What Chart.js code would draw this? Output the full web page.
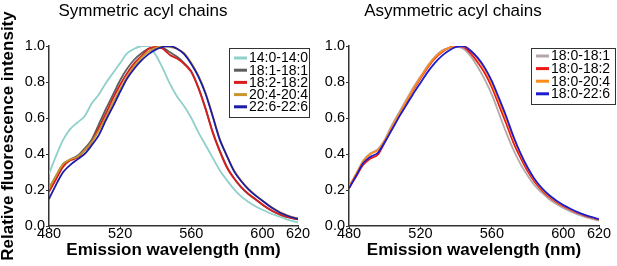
<!DOCTYPE html>
<html>
<head>
<meta charset="utf-8">
<script src="https://cdn.jsdelivr.net/npm/chart.js@4.4.1/dist/chart.umd.min.js"></script>
<style>
  html, body { margin: 0; padding: 0; background: #fff; }
  #wrap { position: relative; width: 617px; height: 266px; }
  #wrap canvas { position: absolute; left: 0; top: 0; }
</style>
</head>
<body>
<div id="wrap">
  <canvas id="leftChart" width="617" height="266"></canvas>
  <canvas id="rightChart" width="617" height="266"></canvas>
</div>
<script>
const FONT = '"Liberation Sans", Arial, Helvetica, sans-serif';

const wavelengths = [480, 484, 488, 492, 496, 500, 504, 508, 512, 516, 520, 524, 528, 532, 536, 540, 544, 548,
  552, 556, 560, 564, 568, 572, 576, 580, 584, 588, 592, 596, 600, 604, 608, 612, 616, 620];
const xTicks = [480, 520, 560, 600, 620];
const yTicks = [0, 0.2, 0.4, 0.6, 0.8, 1.0];

// Symmetric acyl chains
const sym_14_0 = [0.29, 0.39, 0.48, 0.54, 0.575, 0.61, 0.68, 0.73, 0.795, 0.85, 0.905, 0.96, 0.985, 1.0, 1.0, 0.95, 0.875, 0.79,
  0.72, 0.665, 0.60, 0.52, 0.45, 0.38, 0.31, 0.255, 0.205, 0.165, 0.135, 0.11, 0.09, 0.072, 0.057, 0.043, 0.03, 0.02];
const sym_18_1 = [0.21, 0.28, 0.345, 0.37, 0.39, 0.43, 0.48, 0.565, 0.65, 0.73, 0.81, 0.875, 0.925, 0.96, 0.985, 0.99, 0.99, 0.965,
  0.94, 0.905, 0.86, 0.77, 0.655, 0.525, 0.42, 0.33, 0.265, 0.215, 0.178, 0.148, 0.118, 0.092, 0.071, 0.055, 0.045, 0.037];
const sym_18_2 = [0.19, 0.26, 0.33, 0.365, 0.38, 0.42, 0.465, 0.545, 0.625, 0.71, 0.785, 0.85, 0.905, 0.945, 0.985, 0.995, 0.985, 0.95,
  0.93, 0.90, 0.855, 0.765, 0.65, 0.52, 0.415, 0.325, 0.265, 0.218, 0.18, 0.15, 0.12, 0.093, 0.072, 0.056, 0.045, 0.037];
const sym_20_4 = [0.21, 0.28, 0.345, 0.37, 0.385, 0.42, 0.465, 0.53, 0.605, 0.685, 0.76, 0.83, 0.89, 0.935, 0.97, 0.99, 1.0, 0.995,
  0.985, 0.96, 0.905, 0.835, 0.74, 0.615, 0.485, 0.39, 0.31, 0.252, 0.207, 0.172, 0.142, 0.112, 0.087, 0.067, 0.052, 0.042];
const sym_22_6 = [0.15, 0.23, 0.30, 0.34, 0.37, 0.40, 0.448, 0.505, 0.588, 0.665, 0.745, 0.82, 0.875, 0.92, 0.955, 0.98, 0.995, 1.0,
  0.985, 0.955, 0.90, 0.83, 0.735, 0.61, 0.48, 0.39, 0.305, 0.25, 0.205, 0.17, 0.14, 0.11, 0.085, 0.065, 0.05, 0.04];

// Asymmetric acyl chains
const asym_18_1 = [0.215, 0.285, 0.365, 0.405, 0.425, 0.48, 0.56, 0.63, 0.70, 0.77, 0.83, 0.89, 0.94, 0.975, 0.99, 0.995, 0.985, 0.945,
  0.885, 0.815, 0.73, 0.625, 0.52, 0.425, 0.345, 0.28, 0.225, 0.185, 0.15, 0.123, 0.10, 0.081, 0.064, 0.051, 0.04, 0.03];
const asym_18_2 = [0.21, 0.275, 0.34, 0.375, 0.395, 0.465, 0.54, 0.615, 0.685, 0.755, 0.82, 0.88, 0.93, 0.965, 0.99, 1.0, 0.995, 0.96,
  0.91, 0.85, 0.77, 0.67, 0.57, 0.465, 0.38, 0.305, 0.245, 0.198, 0.162, 0.134, 0.11, 0.09, 0.072, 0.058, 0.046, 0.035];
const asym_20_4 = [0.22, 0.29, 0.36, 0.40, 0.42, 0.475, 0.55, 0.62, 0.69, 0.76, 0.825, 0.885, 0.935, 0.97, 0.99, 1.0, 1.0, 0.975,
  0.93, 0.87, 0.79, 0.695, 0.595, 0.49, 0.40, 0.32, 0.255, 0.205, 0.168, 0.138, 0.114, 0.093, 0.075, 0.06, 0.047, 0.036];
const asym_22_6 = [0.21, 0.28, 0.35, 0.385, 0.405, 0.465, 0.535, 0.605, 0.67, 0.735, 0.795, 0.855, 0.905, 0.945, 0.975, 0.995, 1.0, 0.975,
  0.935, 0.88, 0.805, 0.71, 0.61, 0.50, 0.405, 0.325, 0.26, 0.21, 0.172, 0.142, 0.117, 0.096, 0.077, 0.062, 0.049, 0.038];

const symLabels = ['14:0-14:0', '18:1-18:1', '18:2-18:2', '20:4-20:4', '22:6-22:6'];
const symColors = ['#8fd0cb', '#5e5e5e', '#d91c1c', '#c8962a', '#1c1ca6'];
const symSeries = [sym_14_0, sym_18_1, sym_18_2, sym_20_4, sym_22_6];

const asymLabels = ['18:0-18:1', '18:0-18:2', '18:0-20:4', '18:0-22:6'];
const asymColors = ['#b3a7a7', '#ee1616', '#ff8c1a', '#1c1cd0'];
const asymSeries = [asym_18_1, asym_18_2, asym_20_4, asym_22_6];

Chart.defaults.font.family = FONT;
Chart.defaults.color = '#000';

// panel heading + boxed legend, drawn inside the plot
const panelDecor = {
  id: 'panelDecor',
  afterDraw(chart, args, opts) {
    const ctx = chart.ctx;
    ctx.save();
    ctx.fillStyle = '#000';
    ctx.font = '17px ' + FONT;
    ctx.textAlign = 'center';
    ctx.textBaseline = 'alphabetic';
    ctx.fillText(opts.title, opts.titleX, opts.titleY);

    const lg = opts.legend;
    ctx.fillStyle = '#fff';
    ctx.fillRect(lg.x, lg.y, lg.w, lg.h);
    ctx.strokeStyle = '#333';
    ctx.lineWidth = 1;
    ctx.strokeRect(lg.x + 0.5, lg.y + 0.5, lg.w, lg.h);
    ctx.font = '14px ' + FONT;
    ctx.textAlign = 'left';
    ctx.textBaseline = 'middle';
    chart.data.datasets.forEach((ds, i) => {
      const y = lg.y + lg.first + i * lg.step;
      ctx.strokeStyle = ds.borderColor;
      ctx.lineWidth = 3;
      ctx.beginPath();
      ctx.moveTo(lg.x + 5, y);
      ctx.lineTo(lg.x + 18, y);
      ctx.stroke();
      ctx.fillStyle = '#000';
      ctx.fillText(ds.label, lg.x + 20, y + 0.5);
    });
    ctx.restore();
  }
};

function buildDatasets(labels, colors, series) {
  return labels.map((label, i) => ({
    label,
    data: wavelengths.map((w, j) => ({ x: w, y: series[i][j] })),
    borderColor: colors[i],
    backgroundColor: colors[i],
    borderWidth: 1.8,
    pointRadius: 0,
    tension: 0.3,
    fill: false,
    order: labels.length - i
  }));
}

function buildOptions(isLeft, decor) {
  return {
    responsive: false,
    animation: false,
    events: [],
    layout: {
      padding: isLeft ? { left: 0, right: 319, top: 46, bottom: 0 } : { left: 312, right: 18, top: 46, bottom: 0 }
    },
    plugins: {
      legend: { display: false },
      tooltip: { enabled: false },
      panelDecor: decor
    },
    scales: {
      x: {
        type: 'linear',
        min: 480,
        max: 620,
        afterBuildTicks: s => { s.ticks = xTicks.map(v => ({ value: v })); },
        afterFit: s => { s.height = 40; },
        grid: { drawOnChartArea: false, drawTicks: true, tickLength: 3, color: '#333' },
        border: { color: '#333', width: 1.5 },
        ticks: { font: { size: 14.5 }, color: '#000', padding: -4, maxRotation: 0, autoSkip: false },
        title: {
          display: true,
          text: 'Emission wavelength (nm)',
          color: '#000',
          font: { size: 17, weight: 'bold', lineHeight: 1 },
          padding: { top: 0, bottom: 7 }
        }
      },
      y: {
        min: 0,
        max: 1,
        afterBuildTicks: s => { s.ticks = yTicks.map(v => ({ value: v })); },
        afterFit: s => { s.width = isLeft ? 49 : 37; },
        grid: { drawOnChartArea: false, drawTicks: true, tickLength: 3, color: '#333' },
        border: { color: '#333', width: 1.5 },
        ticks: { font: { size: 14.5 }, color: '#000', padding: 1, callback: v => Number(v).toFixed(1) },
        title: {
          display: isLeft,
          text: 'Relative fluorescence intensity',
          color: '#000',
          font: { size: 17, weight: 'bold', lineHeight: 1 },
          padding: { top: 0, bottom: 0 }
        }
      }
    }
  };
}

new Chart(document.getElementById('leftChart'), {
  type: 'line',
  data: { datasets: buildDatasets(symLabels, symColors, symSeries) },
  options: buildOptions(true, {
    title: 'Symmetric acyl chains', titleX: 143, titleY: 16,
    legend: { x: 229, y: 48, w: 80, h: 69, first: 10, step: 12.2 }
  }),
  plugins: [panelDecor]
});

new Chart(document.getElementById('rightChart'), {
  type: 'line',
  data: { datasets: buildDatasets(asymLabels, asymColors, asymSeries) },
  options: buildOptions(false, {
    title: 'Asymmetric acyl chains', titleX: 453, titleY: 16,
    legend: { x: 531, y: 48, w: 84, h: 56, first: 8, step: 12.6 }
  }),
  plugins: [panelDecor]
});
</script>
</body>
</html>
